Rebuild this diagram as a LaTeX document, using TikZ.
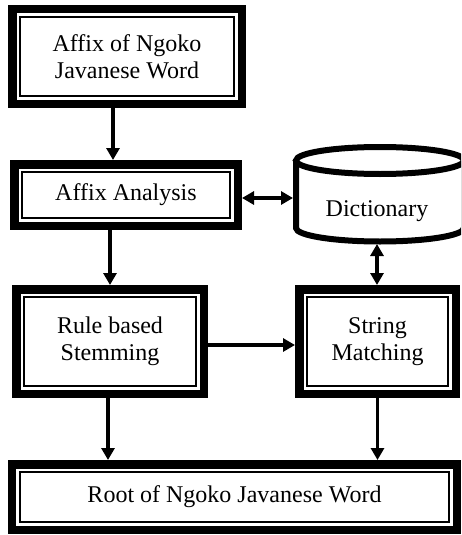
\documentclass[tikz,border=0pt]{standalone}
\usepackage{fontspec}
\setmainfont{Liberation Serif}
\usetikzlibrary{arrows.meta}
\tikzset{
  dbox/.style={draw, line width=8.5pt, fill=white, align=center, inner sep=0pt,
    font=\fontsize{24}{27.5}\selectfont,
    path picture={\draw[line width=2pt]
      ([shift={(7.8pt,-7.8pt)}]path picture bounding box.north west) rectangle
      ([shift={(-7.8pt,7.8pt)}]path picture bounding box.south east);}},
  arr/.style={line width=3.4pt, -{Triangle[length=12pt,width=13pt]}},
  darr/.style={line width=3.4pt, {Triangle[length=12pt,width=13pt]}-{Triangle[length=12pt,width=13pt]}},
  cyl/.style={line width=6pt, fill=white},
  txt/.style={font=\fontsize{24}{27.5}\selectfont, inner sep=0pt}
}
\begin{document}
\begin{tikzpicture}[x=1pt,y=-1pt]
\clip (0,0) rectangle (461,535);
\fill[white] (0,0) rectangle (461,535);
% boxes
\node[dbox, minimum width=229.5, minimum height=94.5] (b1) at (127,56.5) {Affix of Ngoko\\Javanese Word};
\node[dbox, minimum width=223.5, minimum height=61.5] (aa) at (126,195) {Affix Analysis};
\node[dbox, minimum width=187.5, minimum height=104.5] (rb) at (110,341.5) {Rule based\\Stemming};
\node[dbox, minimum width=156.5, minimum height=104.5] (sm) at (377.5,341.5) {String\\Matching};
\node[dbox, minimum width=445, minimum height=65.5] (rt) at (234.5,497) {Root of Ngoko Javanese Word};
% dictionary cylinder
\draw[cyl] (296,160.5) -- (296,228) arc[start angle=180, end angle=360, x radius=84pt, y radius=13.5pt] -- (464,160.5);
\draw[cyl] (380,160.5) ellipse [x radius=84pt, y radius=13.5pt];
\node[txt] (dict) at (377,211) {Dictionary};
\coordinate (dictL) at (293,198);
\coordinate (dictB) at (377,244);
% connectors
\draw[arr] ([xshift=-14pt]b1.south) -- ([xshift=-14pt]b1.south |- aa.north);
\draw[darr] ([yshift=-3pt]aa.east) -- (dictL);
\draw[arr] ([xshift=-16pt]aa.south) -- ([xshift=-16pt]aa.south |- rb.north);
\draw[darr] (dictB) -- (dictB |- sm.north);
\draw[arr] ([yshift=-3.5pt]rb.east) -- ([yshift=-3.5pt]rb.east -| sm.west);
\draw[arr] ([xshift=-2pt]rb.south) -- ([xshift=-2pt]rb.south |- rt.north);
\draw[arr] (sm.south) -- (sm.south |- rt.north);
\end{tikzpicture}
\end{document}
